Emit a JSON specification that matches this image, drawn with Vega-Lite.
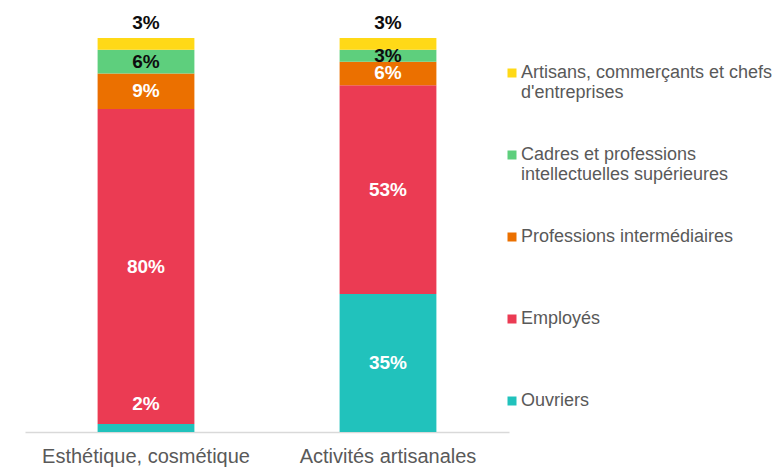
{
  "$schema": "https://vega.github.io/schema/vega-lite/v6.json",
  "width": 484,
  "height": 394,
  "autosize": "none",
  "padding": {"left": 25, "top": 38, "right": 267, "bottom": 36},
  "config": {
    "view": {"stroke": null},
    "font": "Liberation Sans"
  },
  "data": {
    "values": [
      {"filiere": "Esthétique, cosmétique", "csp": "Ouvriers", "pct": 2},
      {"filiere": "Esthétique, cosmétique", "csp": "Employés", "pct": 80},
      {"filiere": "Esthétique, cosmétique", "csp": "Professions intermédiaires", "pct": 9},
      {"filiere": "Esthétique, cosmétique", "csp": "Cadres et professions intellectuelles supérieures", "pct": 6},
      {"filiere": "Esthétique, cosmétique", "csp": "Artisans, commerçants et chefs d'entreprises", "pct": 3},
      {"filiere": "Activités artisanales", "csp": "Ouvriers", "pct": 35},
      {"filiere": "Activités artisanales", "csp": "Employés", "pct": 53},
      {"filiere": "Activités artisanales", "csp": "Professions intermédiaires", "pct": 6},
      {"filiere": "Activités artisanales", "csp": "Cadres et professions intellectuelles supérieures", "pct": 3},
      {"filiere": "Activités artisanales", "csp": "Artisans, commerçants et chefs d'entreprises", "pct": 3}
    ]
  },
  "transform": [
    {"calculate": "indexof(['Ouvriers','Employés','Professions intermédiaires','Cadres et professions intellectuelles supérieures',\"Artisans, commerçants et chefs d'entreprises\"], datum.csp)", "as": "ordre"},
    {"stack": "pct", "groupby": ["filiere"], "sort": [{"field": "ordre", "order": "ascending"}], "as": ["y0", "y1"]},
    {"calculate": "max((datum.y0 + datum.y1) / 2, 7)", "as": "mid"},
    {"calculate": "datum.pct + '%'", "as": "lbl"}
  ],
  "encoding": {
    "x": {
      "field": "filiere",
      "type": "nominal",
      "sort": ["Esthétique, cosmétique", "Activités artisanales"],
      "scale": {"paddingInner": 0.6, "paddingOuter": 0.3},
      "axis": {
        "title": null,
        "labelAngle": 0,
        "labelFontSize": 20,
        "labelLimit": 400,
        "labelColor": "#595959",
        "labelPadding": 14,
        "ticks": false,
        "domainColor": "#d9d9d9",
        "domainWidth": 1.5,
        "grid": false
      }
    }
  },
  "layer": [
    {
      "mark": {"type": "bar"},
      "encoding": {
        "y": {"field": "y0", "type": "quantitative", "scale": {"domain": [0, 100]}, "axis": null},
        "y2": {"field": "y1"},
        "color": {
          "field": "csp",
          "type": "nominal",
          "scale": {
            "domain": ["Artisans, commerçants et chefs d'entreprises", "Cadres et professions intellectuelles supérieures", "Professions intermédiaires", "Employés", "Ouvriers"],
            "range": ["#FFD917", "#5ECF7D", "#EB7000", "#EB3B53", "#21C2BC"]
          },
          "legend": {
            "title": null,
            "orient": "none",
            "legendX": 478,
            "legendY": 26,
            "padding": 0,
            "symbolType": "square",
            "symbolSize": 81,
            "symbolStrokeWidth": 0,
            "labelFontSize": 18,
            "labelColor": "#595959",
            "labelLimit": 400,
            "labelOffset": 0,
            "labelLineHeight": 20,
            "labelBaseline": "middle",
            "gridAlign": "all",
            "rowPadding": 44,
            "labelExpr": "datum.label == 'Cadres et professions intellectuelles supérieures' ? ['Cadres et professions', 'intellectuelles supérieures'] : indexof(datum.label, 'Artisans') == 0 ? ['Artisans, commerçants et chefs', \"d'entreprises\"] : datum.label"
          }
        }
      }
    },
    {
      "transform": [{"filter": "datum.ordre < 4"}],
      "mark": {"type": "text", "fontSize": 19, "fontWeight": "bold", "baseline": "middle"},
      "encoding": {
        "y": {"field": "mid", "type": "quantitative"},
        "text": {"field": "lbl"},
        "color": {
          "condition": {"test": "datum.ordre == 3", "value": "#0d0d0d"},
          "value": "#ffffff"
        }
      }
    },
    {
      "transform": [{"filter": "datum.ordre == 4"}],
      "mark": {"type": "text", "fontSize": 19, "fontWeight": "bold", "baseline": "bottom", "dy": -5, "color": "#0d0d0d"},
      "encoding": {
        "y": {"field": "y1", "type": "quantitative"},
        "text": {"field": "lbl"}
      }
    }
  ]
}
